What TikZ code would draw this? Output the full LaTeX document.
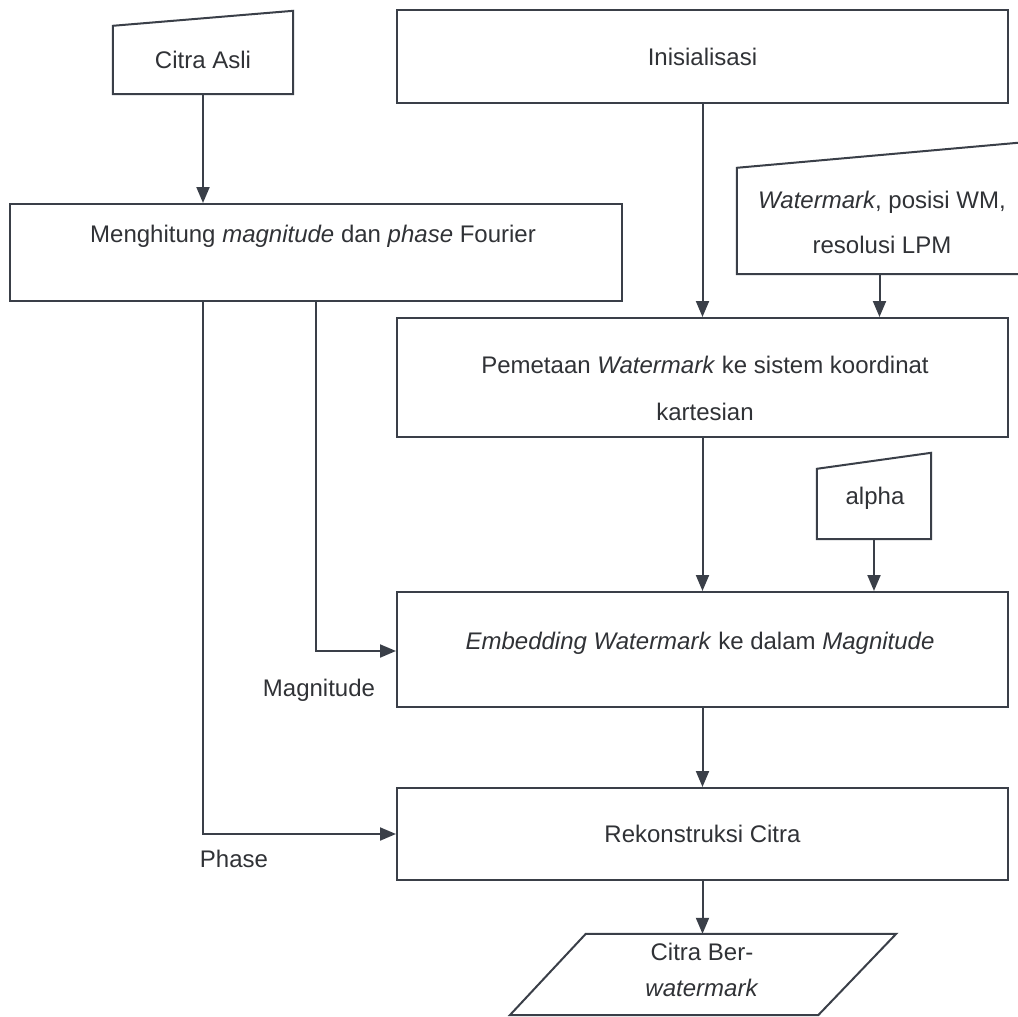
\documentclass[tikz,border=0pt]{standalone}
\usepackage{fontspec}
\setmainfont{Liberation Sans}
\usetikzlibrary{arrows.meta}
\definecolor{ln}{HTML}{3A3F48}
\definecolor{tx}{HTML}{303236}

\begin{document}
\begin{tikzpicture}[x=1pt,y=-1pt,
  every node/.style={font=\fontsize{24}{47}\selectfont, text=tx, inner sep=0pt},
  box/.style={draw=ln, line width=2pt, rectangle, align=center},
  shapebox/.style={rectangle, align=center},
  outline/.style={draw=ln, line width=2pt, line join=miter},
  flow/.style={draw=ln, line width=2pt, -{Triangle[width=13pt,length=16pt]}},
]
\useasboundingbox (0,0) rectangle (1018,1017);

% process boxes
\node[box, minimum width=611, minimum height=93]  (ini) at (702.5,56.5) {Inisialisasi};
\node[box, minimum width=612, minimum height=97]  (mh)  at (316,252.5) {};
\node (mhtxt) at (313,236) {Menghitung \textit{magnitude} dan \textit{phase} Fourier};
\node[box, minimum width=611, minimum height=119] (pem) at (702.5,377.5) {};
\node[align=center] (pemtxt) at (705,388) {Pemetaan \textit{Watermark} ke sistem koordinat\\kartesian};
\node[box, minimum width=611, minimum height=115] (emb) at (702.5,649.5) {};
\node (embtxt) at (700,643) {\textit{Embedding Watermark} ke dalam \textit{Magnitude}};
\node[box, minimum width=611, minimum height=92]  (rek) at (702.5,834) {Rekonstruksi Citra};

% manual input shapes (slanted top edge)
\node[shapebox, minimum width=180, minimum height=68] (asli) at (203,60) {Citra Asli};
\draw[outline] (asli.south west) -- (asli.south east) -- ([yshift=15]asli.north east) -- (asli.north west) -- cycle;

\node[shapebox, minimum width=285, minimum height=106] (wm) at (879.5,221) {};
\draw[outline] (wm.south west) -- (wm.south east) -- ([yshift=25.4]wm.north east) -- (wm.north west) -- cycle;
\node[align=center, font=\fontsize{24}{45}\selectfont] (wmtxt) at (882,222) {\textit{Watermark}, posisi WM,\\resolusi LPM};

\node[shapebox, minimum width=114, minimum height=70] (al) at (874,504) {};
\draw[outline] (al.south west) -- (al.south east) -- ([yshift=16]al.north east) -- (al.north west) -- cycle;
\node (altxt) at (875,498) {alpha};

% output parallelogram
\node[shapebox, minimum width=310, minimum height=81] (out) at (741,974.5) {};
\draw[outline] (out.north west) -- (out.north east) -- ([xshift=-78]out.south east) -- ([xshift=-76]out.south west) -- cycle;
\node[align=center, font=\fontsize{24}{36}\selectfont] (outtxt) at (702,970) {Citra Ber-\\\textit{watermark}};

% connectors
\draw[flow] (asli.south) -- (asli.south |- mh.north);
\draw[flow] (ini.south) -- (ini.south |- pem.north);
\draw[flow] (wm.south) -- (wm.south |- pem.north);
\draw[flow] (pem.south) -- (emb.north);
\draw[flow] (al.south) -- (al.south |- emb.north);
\draw[flow] (mh.south) |- ([yshift=-1.5]emb.west);
\draw[flow] ([xshift=-113]mh.south) |- (rek.west);
\draw[flow] (emb.south) -- (rek.north);
\draw[flow] (rek.south) -- (rek.south |- out.north);

% connector labels
\node (maglbl) at (319,690) {Magnitude};
\node (phlbl) at (234,859) {Phase};
\end{tikzpicture}
\end{document}
